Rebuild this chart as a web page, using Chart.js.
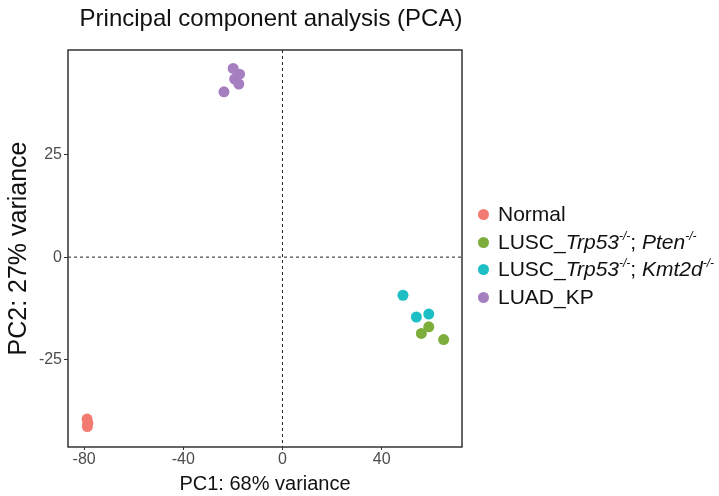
<!DOCTYPE html>
<html>
<head>
<meta charset="utf-8">
<title>PCA</title>
<script src="https://cdn.jsdelivr.net/npm/chart.js@4/dist/chart.umd.min.js"></script>
<style>
    body { margin: 0; background: #fff; }
    #wrap { position: relative; width: 719px; height: 496px; font-family: "Liberation Sans", Arial, Helvetica, sans-serif; }
    #pcaChart { position: absolute; left: 0; top: 0; }
    #title { position: absolute; left: 0; width: 542px; top: 4px; text-align: center; font-size: 24px; color: #111; }
    #legend { position: absolute; left: 478px; top: 200px; font-size: 21px; color: #111; }
    #legend .row { height: 27.5px; line-height: 27.5px; white-space: nowrap; }
    #legend .dot { display: inline-block; width: 11px; height: 11px; border-radius: 50%; margin-right: 9px; vertical-align: 1px; }
    #legend sup { font-size: 12px; font-style: italic; vertical-align: 9px; line-height: 0; }
</style>
</head>
<body>
<div id="wrap">
    <canvas id="pcaChart" width="719" height="496"></canvas>
    <div id="title">Principal component analysis (PCA)</div>
    <div id="legend"></div>
</div>
<script>
// Group names (legend uses rich HTML versions below)
const groups = ['Normal', 'LUSC_Trp53-/-; Pten-/-', 'LUSC_Trp53-/-; Kmt2d-/-', 'LUAD_KP'];
const groupLabelsHtml = [
    'Normal',
    'LUSC_<i>Trp53</i><sup>-/-</sup>; <i>Pten</i><sup>-/-</sup>',
    'LUSC_<i>Trp53</i><sup>-/-</sup>; <i>Kmt2d</i><sup>-/-</sup>',
    'LUAD_KP'
];
const groupColors = ['#F37A70', '#7DAE3C', '#1DBFC5', '#A57FBF'];

// PC1 / PC2 scores
const normalPC1 = [-78.8, -78.5, -78.7];
const normalPC2 = [-39.5, -40.5, -41.3];
const pten_PC1 = [59.0, 56.0, 65.0];
const pten_PC2 = [-17.0, -18.6, -20.1];
const kmt2d_PC1 = [48.6, 54.0, 59.0];
const kmt2d_PC2 = [-9.3, -14.6, -13.9];
const luadPC1 = [-19.9, -17.3, -19.3, -17.6, -23.6];
const luadPC2 = [46.0, 44.6, 43.4, 42.2, 40.3];

const xTicks = [-80, -40, 0, 40];
const yTicks = [-25, 0, 25];
const xRange = [-86.5, 72.4];
const yRange = [-46.3, 50.5];

function toPoints(xs, ys) {
    return xs.map((x, i) => ({ x: x, y: ys[i] }));
}

const seriesX = [normalPC1, pten_PC1, kmt2d_PC1, luadPC1];
const seriesY = [normalPC2, pten_PC2, kmt2d_PC2, luadPC2];

// Panel border + dashed zero lines
const panelPlugin = {
    id: 'panel',
    beforeDatasetsDraw(chart) {
        const { ctx, chartArea, scales } = chart;
        const x0 = scales.x.getPixelForValue(0);
        const y0 = scales.y.getPixelForValue(0);
        ctx.save();
        ctx.strokeStyle = '#222';
        ctx.lineWidth = 1;
        ctx.setLineDash([3, 3]);
        ctx.beginPath();
        ctx.moveTo(x0, chartArea.top);
        ctx.lineTo(x0, chartArea.bottom);
        ctx.moveTo(chartArea.left, y0);
        ctx.lineTo(chartArea.right, y0);
        ctx.stroke();
        ctx.restore();
    },
    afterDraw(chart) {
        const { ctx, chartArea } = chart;
        ctx.save();
        ctx.strokeStyle = '#333';
        ctx.lineWidth = 1.5;
        ctx.strokeRect(chartArea.left, chartArea.top, chartArea.right - chartArea.left, chartArea.bottom - chartArea.top);
        ctx.restore();
    }
};

const tickFont = { family: '"Liberation Sans", Arial, sans-serif', size: 16 };
const titleFont = { family: '"Liberation Sans", Arial, sans-serif', size: 20 };

new Chart(document.getElementById('pcaChart'), {
    type: 'scatter',
    data: {
        datasets: groups.map((name, i) => ({
            label: name,
            data: toPoints(seriesX[i], seriesY[i]),
            backgroundColor: groupColors[i],
            borderWidth: 0,
            pointRadius: 5.5,
            pointHoverRadius: 5.5
        }))
    },
    options: {
        responsive: false,
        animation: false,
        layout: { padding: { left: 1, right: 257, top: 50, bottom: 0 } },
        plugins: {
            legend: { display: false },
            tooltip: { enabled: false }
        },
        scales: {
            x: {
                type: 'linear',
                min: xRange[0],
                max: xRange[1],
                afterBuildTicks: (scale) => { scale.ticks = xTicks.map(v => ({ value: v })); },
                afterFit: (scale) => { scale.height = 49; },
                border: { display: false },
                grid: { drawOnChartArea: false, drawTicks: true, tickLength: 3, tickColor: '#333', tickWidth: 1 },
                ticks: { color: '#4d4d4d', font: tickFont, padding: 0, maxRotation: 0 },
                title: { display: true, text: 'PC1: 68% variance', color: '#111', font: titleFont, padding: { top: 0, bottom: 0 } }
            },
            y: {
                type: 'linear',
                min: yRange[0],
                max: yRange[1],
                afterBuildTicks: (scale) => { scale.ticks = yTicks.map(v => ({ value: v })); },
                afterFit: (scale) => { scale.width = 67; },
                border: { display: false },
                grid: { drawOnChartArea: false, drawTicks: true, tickLength: 4, tickColor: '#333', tickWidth: 1 },
                ticks: { color: '#4d4d4d', font: tickFont, padding: 2 },
                title: { display: true, text: 'PC2: 27% variance', color: '#111', font: { family: titleFont.family, size: 25 }, padding: { top: 3, bottom: 0 } }
            }
        }
    },
    plugins: [panelPlugin]
});

// HTML legend so the gene names can be italic with superscripts
const legend = document.getElementById('legend');
groupLabelsHtml.forEach((html, i) => {
    const row = document.createElement('div');
    row.className = 'row';
    row.innerHTML = '<span class="dot" style="background:' + groupColors[i] + '"></span>' + html;
    legend.appendChild(row);
});
</script>
</body>
</html>
